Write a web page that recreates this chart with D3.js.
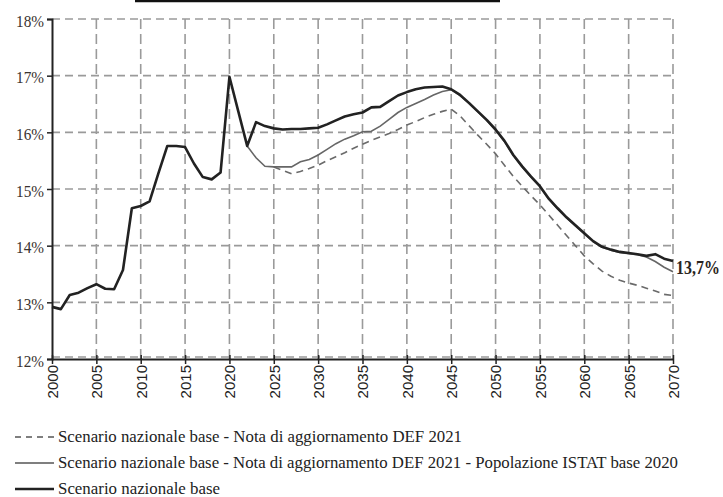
<!DOCTYPE html>
<html>
<head>
<meta charset="utf-8">
<script src="https://cdn.jsdelivr.net/npm/d3@7"></script>
<style>
  body { margin: 0; background: #fff; }
  svg { display: block; }
</style>
</head>
<body>
<svg width="723" height="497"></svg>
<script>
// Spesa pensionistica in rapporto al PIL (%)
var baseStart = 2000;
var baseValues = [
  12.92, 12.88, 13.13, 13.17, 13.25, 13.32, 13.24, 13.23, 13.57, 14.66,
  14.70, 14.78, 15.28, 15.76, 15.76, 15.74, 15.45, 15.21, 15.17, 15.29,
  16.98, 16.37, 15.76, 16.18, 16.11, 16.07, 16.05, 16.06, 16.06, 16.07,
  16.08, 16.14, 16.21, 16.28, 16.32, 16.35, 16.44, 16.45, 16.55, 16.65,
  16.71, 16.76, 16.79, 16.80, 16.81, 16.76, 16.66, 16.52, 16.37, 16.22,
  16.05, 15.85, 15.60, 15.40, 15.22, 15.05, 14.83, 14.66, 14.50, 14.36,
  14.22, 14.08, 13.98, 13.93, 13.89, 13.87, 13.85, 13.82, 13.85, 13.77,
  13.73
];

var istatStart = 2022;
var istatValues = [
  15.76, 15.55, 15.40, 15.39, 15.39, 15.39, 15.48, 15.52,
  15.60, 15.70, 15.80, 15.88, 15.94, 16.01, 16.02, 16.11, 16.23, 16.35,
  16.44, 16.51, 16.58, 16.66, 16.72, 16.75, 16.65, 16.51, 16.36, 16.21,
  16.04, 15.84, 15.59, 15.39, 15.21, 15.04, 14.82, 14.65, 14.49, 14.35,
  14.21, 14.07, 13.97, 13.92, 13.88, 13.86, 13.84, 13.80, 13.72, 13.62,
  13.54
];

var defStart = 2025;
var defValues = [
  15.39, 15.33, 15.27, 15.31, 15.36,
  15.42, 15.50, 15.57, 15.64, 15.72, 15.79, 15.86, 15.92, 15.98, 16.05,
  16.13, 16.19, 16.26, 16.32, 16.37, 16.41, 16.29, 16.12, 15.95, 15.79,
  15.62, 15.42, 15.22, 15.05, 14.88, 14.72, 14.54, 14.36, 14.18, 14.00,
  13.82, 13.68, 13.55, 13.46, 13.39, 13.34, 13.30, 13.25, 13.20, 13.14,
  13.12
];

var yTicks = [12, 13, 14, 15, 16, 17, 18];
var xTicks = [2000, 2005, 2010, 2015, 2020, 2025, 2030, 2035, 2040, 2045, 2050, 2055, 2060, 2065, 2070];
var legendLabels = [
  "Scenario nazionale base - Nota di aggiornamento DEF 2021",
  "Scenario nazionale base - Nota di aggiornamento DEF 2021 - Popolazione ISTAT base 2020",
  "Scenario nazionale base"
];
var endLabel = "13,7%";

// turn a start year + list of values into points
function toPoints(start, values) {
  return values.map(function (v, i) { return { year: start + i, value: v }; });
}

var svg = d3.select("svg");

var x = d3.scaleLinear().domain([2000, 2070]).range([52, 673]);
var y = d3.scaleLinear().domain([12, 18]).range([359, 19]);

// clipped title rule at the top of the scan
svg.append("line")
  .attr("x1", 135).attr("x2", 500)
  .attr("y1", 1).attr("y2", 1)
  .style("stroke", "#111")
  .style("stroke-width", 2.5);

// dashed grid
var grid = svg.append("g").attr("class", "grid");
grid.selectAll("line.h")
  .data(yTicks)
  .enter()
  .append("line")
  .attr("class", "h")
  .attr("x1", x(2000)).attr("x2", x(2070))
  .attr("y1", function (d) { return y(d) - (d === 12 ? 2 : 0); })
  .attr("y2", function (d) { return y(d) - (d === 12 ? 2 : 0); })
  .style("stroke", "#9a9a9a")
  .style("stroke-width", 1.6)
  .style("stroke-dasharray", "8,5");

grid.selectAll("line.v")
  .data(xTicks.slice(1))
  .enter()
  .append("line")
  .attr("class", "v")
  .attr("x1", function (d) { return x(d); })
  .attr("x2", function (d) { return x(d); })
  .attr("y1", y(18)).attr("y2", y(12))
  .style("stroke", "#9a9a9a")
  .style("stroke-width", 1.6)
  .style("stroke-dasharray", "10,5");

// axes
var yAxis = d3.axisLeft(y)
  .tickValues(yTicks)
  .tickSize(5)
  .tickPadding(3)
  .tickFormat(function (d) { return d + "%"; });

var yG = svg.append("g")
  .attr("transform", "translate(" + x(2000) + ",0)")
  .call(yAxis);
yG.select(".domain").style("stroke", "#222").style("stroke-width", 2);
yG.selectAll(".tick line").style("stroke", "#222").style("stroke-width", 1.5);
yG.selectAll(".tick text")
  .style("font-family", "'Liberation Serif', serif")
  .style("font-size", "17px")
  .style("fill", "#3a3330")
  .attr("dy", "0.42em")
  .attr("textLength", 28)
  .attr("lengthAdjust", "spacingAndGlyphs");

var xAxis = d3.axisBottom(x)
  .tickValues(xTicks)
  .tickSizeInner(5)
  .tickSizeOuter(0)
  .tickFormat(d3.format("d"));

var xG = svg.append("g")
  .attr("transform", "translate(0," + y(12) + ")")
  .call(xAxis);
xG.select(".domain").style("stroke", "#222").style("stroke-width", 2);
xG.selectAll(".tick line")
  .attr("y1", -4)
  .style("stroke", "#222").style("stroke-width", 1.5);
xG.selectAll(".tick text")
  .attr("transform", "rotate(-90)")
  .attr("x", -6)
  .attr("y", 0)
  .attr("dy", "0.36em")
  .style("text-anchor", "end")
  .style("font-family", "'Liberation Sans', sans-serif")
  .style("font-size", "15px")
  .style("fill", "#222");

// series lines
var line = d3.line()
  .x(function (d) { return x(d.year); })
  .y(function (d) { return y(d.value); });

svg.append("path")
  .datum(toPoints(defStart, defValues))
  .attr("d", line)
  .style("fill", "none")
  .style("stroke", "#6a6a6a")
  .style("stroke-width", 1.6)
  .style("stroke-dasharray", "7,5");

svg.append("path")
  .datum(toPoints(istatStart, istatValues))
  .attr("d", line)
  .style("fill", "none")
  .style("stroke", "#666")
  .style("stroke-width", 1.6);

svg.append("path")
  .datum(toPoints(baseStart, baseValues))
  .attr("d", line)
  .style("fill", "none")
  .style("stroke", "#222")
  .style("stroke-width", 2.6)
  .style("stroke-linejoin", "round");

// end value label (narrowed so it fits the right edge)
svg.append("text")
  .attr("transform", "translate(676,274) scale(0.84,1)")
  .style("font-family", "'Liberation Serif', serif")
  .style("font-weight", "bold")
  .style("font-size", "19px")
  .style("fill", "#2a2420")
  .text(endLabel);

// legend
var legendStyles = [
  { color: "#555", width: 1.4, dash: "6,5" },
  { color: "#555", width: 1.4, dash: null },
  { color: "#222", width: 2.4, dash: null }
];
var legendWidths = [404, 620, 162];

var legend = svg.append("g").attr("class", "legend");
var rows = legend.selectAll("g")
  .data(legendLabels)
  .enter()
  .append("g")
  .attr("transform", function (d, i) { return "translate(0," + (437 + i * 26) + ")"; });

rows.append("line")
  .attr("x1", 15).attr("x2", 54)
  .attr("y1", 0).attr("y2", 0)
  .style("stroke", function (d, i) { return legendStyles[i].color; })
  .style("stroke-width", function (d, i) { return legendStyles[i].width; })
  .style("stroke-dasharray", function (d, i) { return legendStyles[i].dash; });

rows.append("text")
  .attr("x", 58)
  .attr("y", 5)
  .attr("textLength", function (d, i) { return legendWidths[i]; })
  .attr("lengthAdjust", "spacingAndGlyphs")
  .style("font-family", "'Liberation Serif', serif")
  .style("font-size", "17px")
  .style("fill", "#222")
  .text(function (d) { return d; });
</script>
</body>
</html>
